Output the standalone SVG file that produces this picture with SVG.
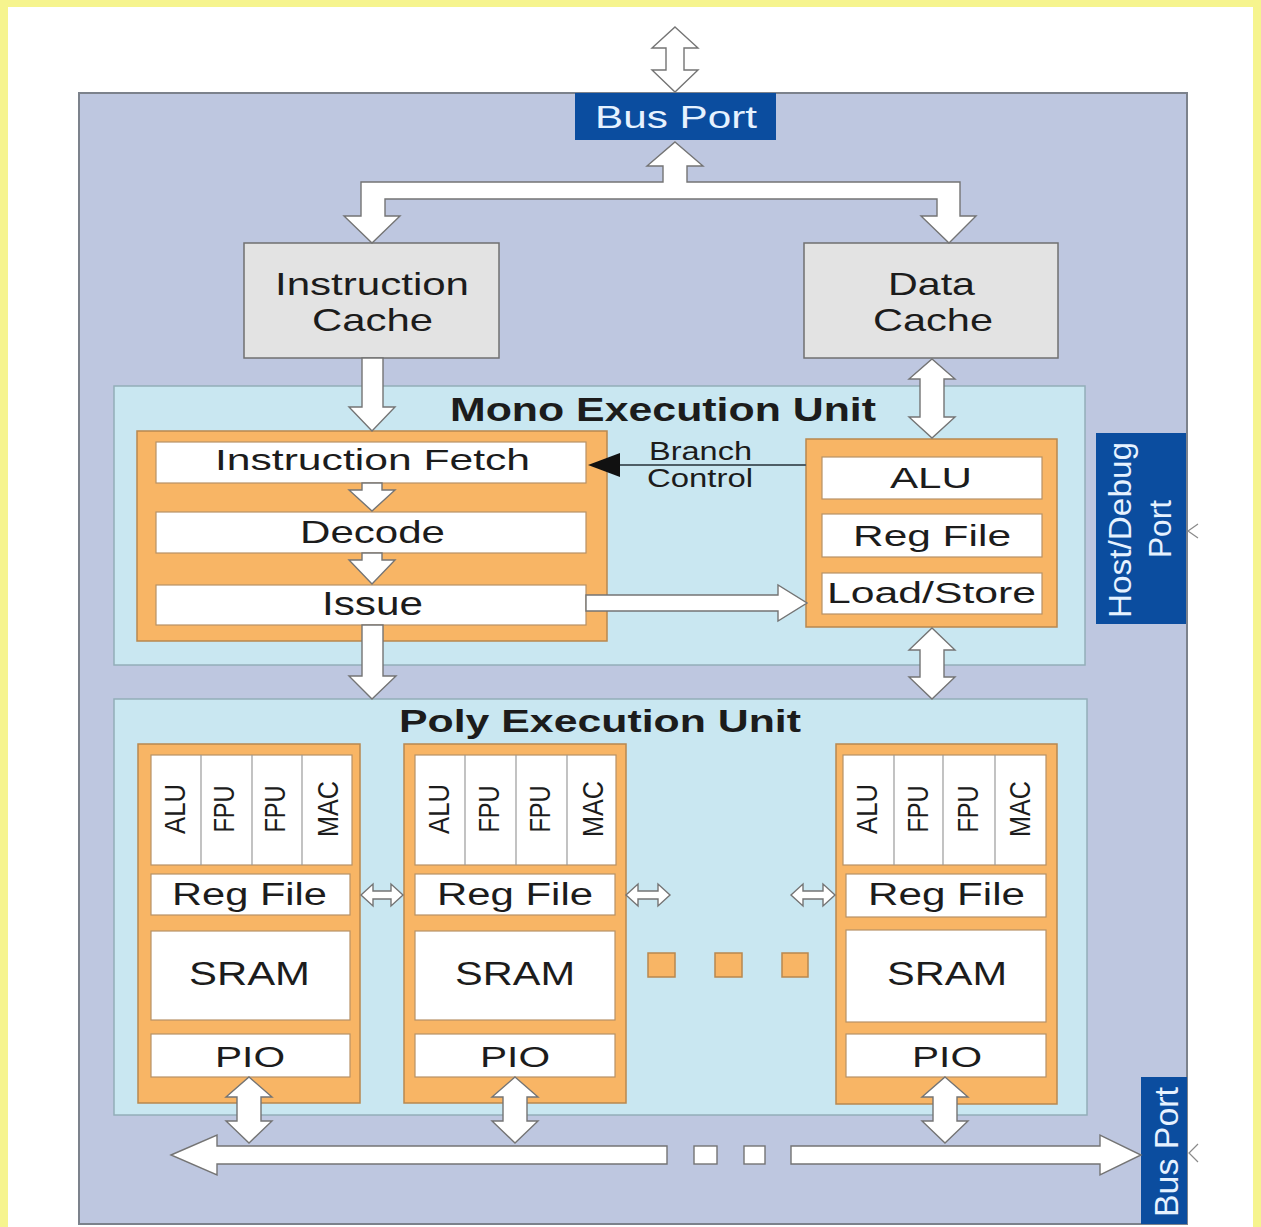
<svg xmlns="http://www.w3.org/2000/svg" width="1261" height="1227" viewBox="0 0 1261 1227">
  <style>
    .frame { fill: #F6F48E; }
    .paper { fill: #FFFFFF; }
    .chip { fill: #BEC7E0; stroke: #7C828C; stroke-width: 2; }
    .unit { fill: #C9E7F1; stroke: #93AEB8; stroke-width: 1.5; }
    .cache { fill: #E3E3E3; stroke: #707070; stroke-width: 1.5; }
    .core { fill: #F8B565; stroke: #B8884F; stroke-width: 1.5; }
    .bar { fill: #FFFFFF; stroke: #B79266; stroke-width: 1.2; }
    .div { stroke: #9A9A9A; stroke-width: 1.2; }
    .port { fill: #0B4D9F; }
    .arrow { fill: #FFFFFF; stroke: #747474; stroke-width: 1.4; stroke-linejoin: miter; }
    .wire { fill: none; stroke: #4E5E66; stroke-width: 2; }
    .stub { fill: none; stroke: #8A8A8A; stroke-width: 1.2; }
    .lbl { font-family: "Liberation Sans", Arial, sans-serif; fill: #1C1C1C; }
    .bold { font-weight: bold; }
    .plbl { font-family: "Liberation Sans", Arial, sans-serif; fill: #E6F2FF; }
  </style>

  <!-- page frame -->
  <rect class="frame" x="0" y="0" width="1261" height="1227"/>
  <rect class="paper" x="8" y="7" width="1245" height="1220"/>

  <!-- processor outline -->
  <g id="chip">
    <rect class="chip" x="79" y="93" width="1108" height="1131"/>
  </g>

  <!-- top bus port -->
  <g id="bus-port-top">
    <rect class="port" x="575" y="93" width="201" height="47"/>
    <text class="plbl" x="595" y="128" font-size="32" textLength="162" lengthAdjust="spacingAndGlyphs">Bus Port</text>
  </g>

  <!-- caches -->
  <g id="instruction-cache">
    <rect class="cache" x="244" y="243" width="255" height="115"/>
    <text class="lbl" x="275" y="295" font-size="32" textLength="194" lengthAdjust="spacingAndGlyphs">Instruction</text>
    <text class="lbl" x="312" y="331" font-size="32" textLength="121" lengthAdjust="spacingAndGlyphs">Cache</text>
  </g>
  <g id="data-cache">
    <rect class="cache" x="804" y="243" width="254" height="115"/>
    <text class="lbl" x="888" y="295" font-size="32" textLength="87" lengthAdjust="spacingAndGlyphs">Data</text>
    <text class="lbl" x="873" y="331" font-size="32" textLength="120" lengthAdjust="spacingAndGlyphs">Cache</text>
  </g>

  <!-- mono execution unit -->
  <g id="mono-unit">
    <rect class="unit" x="114" y="386" width="971" height="279"/>
    <text class="lbl bold" x="450" y="421" font-size="33" textLength="426" lengthAdjust="spacingAndGlyphs">Mono Execution Unit</text>
  </g>
  <g id="mono-pipeline">
    <rect class="core" x="137" y="431" width="470" height="210"/>
    <rect class="bar" x="156" y="442" width="430" height="41"/>
    <text class="lbl" x="215" y="470" font-size="29" textLength="315" lengthAdjust="spacingAndGlyphs">Instruction Fetch</text>
    <rect class="bar" x="156" y="512" width="430" height="41"/>
    <text class="lbl" x="300" y="543" font-size="32" textLength="145" lengthAdjust="spacingAndGlyphs">Decode</text>
    <rect class="bar" x="156" y="585" width="430" height="40"/>
    <text class="lbl" x="322" y="615" font-size="33" textLength="101" lengthAdjust="spacingAndGlyphs">Issue</text>
  </g>
  <g id="mono-datapath">
    <rect class="core" x="806" y="439" width="251" height="188"/>
    <rect class="bar" x="822" y="457" width="220" height="42"/>
    <text class="lbl" x="890" y="488" font-size="30" textLength="82" lengthAdjust="spacingAndGlyphs">ALU</text>
    <rect class="bar" x="822" y="514" width="220" height="43"/>
    <text class="lbl" x="853" y="546" font-size="30" textLength="158" lengthAdjust="spacingAndGlyphs">Reg File</text>
    <rect class="bar" x="822" y="573" width="220" height="41"/>
    <text class="lbl" x="827" y="603" font-size="30" textLength="209" lengthAdjust="spacingAndGlyphs">Load/Store</text>
  </g>

  <!-- host/debug port -->
  <g id="host-debug-port">
    <rect class="port" x="1096" y="433" width="90" height="191"/>
    <text class="plbl" transform="translate(1131,530) rotate(-90)" text-anchor="middle" font-size="32" textLength="176" lengthAdjust="spacingAndGlyphs">Host/Debug</text>
    <text class="plbl" transform="translate(1171,529) rotate(-90)" text-anchor="middle" font-size="32" textLength="58" lengthAdjust="spacingAndGlyphs">Port</text>
  </g>

  <!-- poly execution unit -->
  <g id="poly-unit">
    <rect class="unit" x="114" y="699" width="973" height="416"/>
    <text class="lbl bold" x="399" y="732" font-size="32" textLength="402" lengthAdjust="spacingAndGlyphs">Poly Execution Unit</text>
  </g>

  <!-- processing elements -->
  <g id="pe-1" transform="translate(138,0)">
    <rect class="core" x="0" y="744" width="222" height="359"/>
    <rect class="bar" x="13" y="755" width="201" height="110"/>
    <line class="div" x1="63" y1="755" x2="63" y2="865"/>
    <line class="div" x1="114" y1="755" x2="114" y2="865"/>
    <line class="div" x1="164" y1="755" x2="164" y2="865"/>
    <text class="lbl" transform="translate(47,809) rotate(-90)" text-anchor="middle" font-size="29" textLength="50" lengthAdjust="spacingAndGlyphs">ALU</text>
    <text class="lbl" transform="translate(96,809) rotate(-90)" text-anchor="middle" font-size="29" textLength="47" lengthAdjust="spacingAndGlyphs">FPU</text>
    <text class="lbl" transform="translate(147,809) rotate(-90)" text-anchor="middle" font-size="29" textLength="47" lengthAdjust="spacingAndGlyphs">FPU</text>
    <text class="lbl" transform="translate(200,809) rotate(-90)" text-anchor="middle" font-size="29" textLength="56" lengthAdjust="spacingAndGlyphs">MAC</text>
    <rect class="bar" x="13" y="874" width="199" height="41"/>
    <text class="lbl" x="34" y="905" font-size="31" textLength="155" lengthAdjust="spacingAndGlyphs">Reg File</text>
    <rect class="bar" x="13" y="931" width="199" height="89"/>
    <text class="lbl" x="51" y="985" font-size="34" textLength="121" lengthAdjust="spacingAndGlyphs">SRAM</text>
    <rect class="bar" x="13" y="1034" width="199" height="43"/>
    <text class="lbl" x="77" y="1067" font-size="30" textLength="70" lengthAdjust="spacingAndGlyphs">PIO</text>
  </g>
  <g id="pe-2" transform="translate(404,0)">
    <rect class="core" x="0" y="744" width="222" height="359"/>
    <rect class="bar" x="11" y="755" width="201" height="110"/>
    <line class="div" x1="61" y1="755" x2="61" y2="865"/>
    <line class="div" x1="112" y1="755" x2="112" y2="865"/>
    <line class="div" x1="163" y1="755" x2="163" y2="865"/>
    <text class="lbl" transform="translate(45,809) rotate(-90)" text-anchor="middle" font-size="29" textLength="50" lengthAdjust="spacingAndGlyphs">ALU</text>
    <text class="lbl" transform="translate(95,809) rotate(-90)" text-anchor="middle" font-size="29" textLength="47" lengthAdjust="spacingAndGlyphs">FPU</text>
    <text class="lbl" transform="translate(146,809) rotate(-90)" text-anchor="middle" font-size="29" textLength="47" lengthAdjust="spacingAndGlyphs">FPU</text>
    <text class="lbl" transform="translate(199,809) rotate(-90)" text-anchor="middle" font-size="29" textLength="56" lengthAdjust="spacingAndGlyphs">MAC</text>
    <rect class="bar" x="11" y="874" width="200" height="41"/>
    <text class="lbl" x="33" y="905" font-size="31" textLength="156" lengthAdjust="spacingAndGlyphs">Reg File</text>
    <rect class="bar" x="11" y="931" width="200" height="89"/>
    <text class="lbl" x="51" y="985" font-size="34" textLength="120" lengthAdjust="spacingAndGlyphs">SRAM</text>
    <rect class="bar" x="11" y="1034" width="200" height="43"/>
    <text class="lbl" x="76" y="1067" font-size="30" textLength="70" lengthAdjust="spacingAndGlyphs">PIO</text>
  </g>
  <g id="pe-n" transform="translate(836,0)">
    <rect class="core" x="0" y="744" width="221" height="360"/>
    <rect class="bar" x="7" y="755" width="203" height="110"/>
    <line class="div" x1="58" y1="755" x2="58" y2="865"/>
    <line class="div" x1="107" y1="755" x2="107" y2="865"/>
    <line class="div" x1="159" y1="755" x2="159" y2="865"/>
    <text class="lbl" transform="translate(41,809) rotate(-90)" text-anchor="middle" font-size="29" textLength="50" lengthAdjust="spacingAndGlyphs">ALU</text>
    <text class="lbl" transform="translate(92,809) rotate(-90)" text-anchor="middle" font-size="29" textLength="47" lengthAdjust="spacingAndGlyphs">FPU</text>
    <text class="lbl" transform="translate(142,809) rotate(-90)" text-anchor="middle" font-size="29" textLength="47" lengthAdjust="spacingAndGlyphs">FPU</text>
    <text class="lbl" transform="translate(194,809) rotate(-90)" text-anchor="middle" font-size="29" textLength="56" lengthAdjust="spacingAndGlyphs">MAC</text>
    <rect class="bar" x="10" y="874" width="200" height="43"/>
    <text class="lbl" x="32" y="905" font-size="31" textLength="157" lengthAdjust="spacingAndGlyphs">Reg File</text>
    <rect class="bar" x="10" y="930" width="200" height="92"/>
    <text class="lbl" x="51" y="985" font-size="34" textLength="120" lengthAdjust="spacingAndGlyphs">SRAM</text>
    <rect class="bar" x="10" y="1034" width="200" height="43"/>
    <text class="lbl" x="76" y="1067" font-size="30" textLength="70" lengthAdjust="spacingAndGlyphs">PIO</text>
  </g>

  <!-- ellipsis between elements -->
  <g id="pe-ellipsis">
    <rect class="core" x="648" y="953" width="27" height="24"/>
    <rect class="core" x="715" y="953" width="27" height="24"/>
    <rect class="core" x="782" y="953" width="26" height="24"/>
  </g>

  <!-- bottom bus port -->
  <g id="bus-port-bottom">
    <rect class="port" x="1141" y="1077" width="46" height="147"/>
    <text class="plbl" transform="translate(1178,1152) rotate(-90)" text-anchor="middle" font-size="33" textLength="130" lengthAdjust="spacingAndGlyphs">Bus Port</text>
  </g>

  <!-- connectors -->
  <g id="connectors">
    <!-- external bus to top port -->
    <polygon class="arrow" points="675,27 698,48 684,48 684,70 698,70 675,92 652,70 666,70 666,48 652,48"/>
    <!-- top port to both caches -->
    <polygon class="arrow" points="675,142 703,166 687,166 687,182 960,182 960,216 976,216 949,243 921,216 937,216 937,199 385,199 385,216 400,216 372,243 344,216 361,216 361,182 663,182 663,166 647,166"/>
    <!-- instruction cache to fetch -->
    <polygon class="arrow" points="362,358 383,358 383,407 395,407 372,431 349,407 362,407"/>
    <!-- data cache to mono datapath -->
    <polygon class="arrow" points="932,359 955,379 944,379 944,417 955,417 932,438 909,417 920,417 920,379 909,379"/>
    <!-- pipeline stages -->
    <polygon class="arrow" points="362,483 382,483 382,490 395,490 372,511 349,490 362,490"/>
    <polygon class="arrow" points="362,553 382,553 382,560 395,560 372,584 349,560 362,560"/>
    <!-- issue to mono datapath -->
    <polygon class="arrow" points="586,595 778,595 778,585 807,603 778,621 778,611 586,611"/>
    <!-- branch control -->
    <line class="wire" x1="806" y1="465" x2="618" y2="465"/>
    <polygon fill="#111111" points="588,465 620,453 620,477"/>
    <text class="lbl" x="649" y="460" font-size="25" textLength="103" lengthAdjust="spacingAndGlyphs">Branch</text>
    <text class="lbl" x="647" y="487" font-size="25" textLength="106" lengthAdjust="spacingAndGlyphs">Control</text>
    <!-- issue to poly unit -->
    <polygon class="arrow" points="362,625 383,625 383,676 396,676 372,699 349,676 362,676"/>
    <!-- mono datapath to poly unit -->
    <polygon class="arrow" points="932,628 955,650 944,650 944,677 955,677 932,699 909,677 920,677 920,650 909,650"/>
    <!-- neighbour links between register files -->
    <polygon class="arrow" points="361,895 373,884 373,891 391,891 391,884 403,895 391,906 391,899 373,899 373,906"/>
    <polygon class="arrow" points="626,895 638,884 638,891 658,891 658,884 670,895 658,906 658,899 638,899 638,906"/>
    <polygon class="arrow" points="791,895 803,884 803,891 823,891 823,884 835,895 823,906 823,899 803,899 803,906"/>
    <!-- PIO to bottom bus -->
    <polygon class="arrow" points="249,1077 272,1097 261,1097 261,1121 272,1121 249,1143 226,1121 237,1121 237,1097 226,1097"/>
    <polygon class="arrow" points="515,1077 538,1097 527,1097 527,1121 538,1121 515,1143 492,1121 503,1121 503,1097 492,1097"/>
    <polygon class="arrow" points="945,1077 968,1097 957,1097 957,1121 968,1121 945,1143 922,1121 933,1121 933,1097 922,1097"/>
    <!-- bottom bus -->
    <polygon class="arrow" points="171,1155 217,1135 217,1146 667,1146 667,1164 217,1164 217,1175"/>
    <rect class="arrow" x="694" y="1146" width="23" height="18"/>
    <rect class="arrow" x="744" y="1146" width="21" height="18"/>
    <polygon class="arrow" points="791,1146 1100,1146 1100,1135 1141,1155 1100,1175 1100,1164 791,1164"/>
    <!-- external stubs at side ports -->
    <polyline class="stub" points="1198,524 1188,531 1198,538"/>
    <polyline class="stub" points="1198,1144 1189,1153 1198,1162"/>
  </g>
</svg>
